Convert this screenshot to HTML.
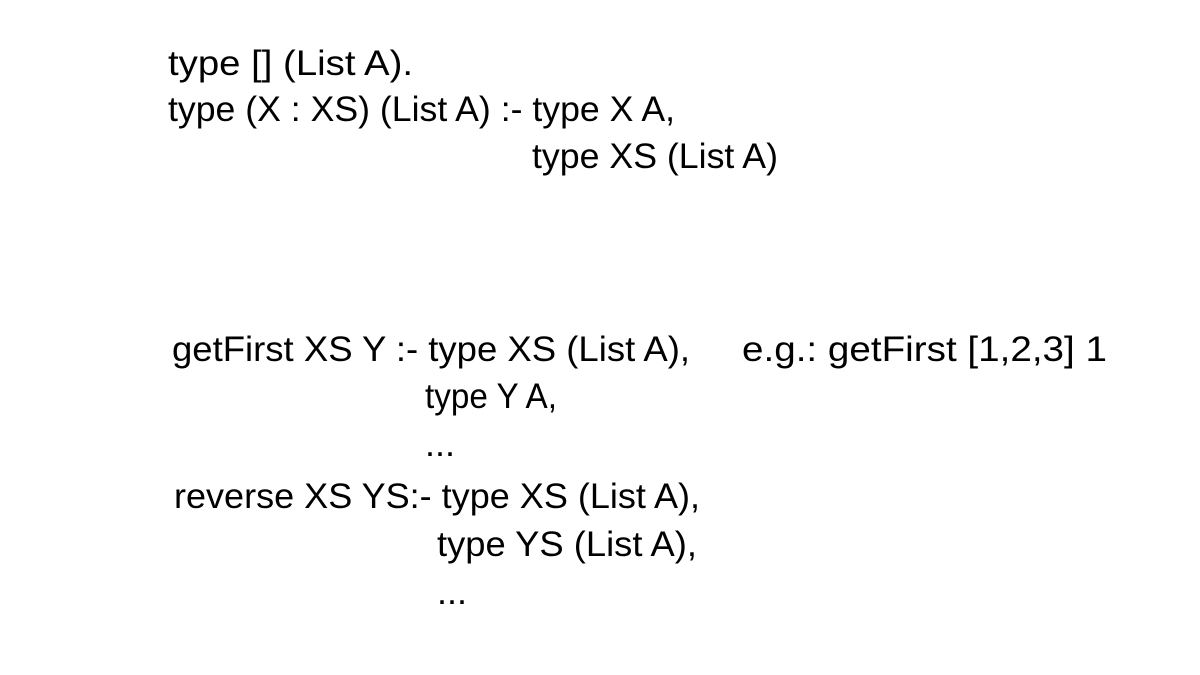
<!DOCTYPE html>
<html><head><meta charset="utf-8"><style>
html,body{margin:0;padding:0;background:#fff;}
svg{display:block;}
text{font-family:"Liberation Sans",sans-serif;font-size:35px;fill:#000;}
</style></head><body>
<svg width="1200" height="675" viewBox="0 0 1200 675" xmlns="http://www.w3.org/2000/svg">
<text x="168" y="75" textLength="245" lengthAdjust="spacingAndGlyphs">type [] (List A).</text>
<text x="168" y="121" textLength="507" lengthAdjust="spacingAndGlyphs">type (X : XS) (List A) :- type X A,</text>
<text x="532" y="168" textLength="246" lengthAdjust="spacingAndGlyphs">type XS (List A)</text>
<text x="172" y="361" textLength="518" lengthAdjust="spacingAndGlyphs">getFirst XS Y :- type XS (List A),</text>
<text x="742" y="361" textLength="365" lengthAdjust="spacingAndGlyphs">e.g.:  getFirst [1,2,3] 1</text>
<text x="425" y="408" textLength="132" lengthAdjust="spacingAndGlyphs">type Y A,</text>
<text x="425" y="456" textLength="30" lengthAdjust="spacingAndGlyphs">...</text>
<text x="174" y="508" textLength="526" lengthAdjust="spacingAndGlyphs">reverse XS YS:- type XS (List A),</text>
<text x="437" y="556" textLength="260" lengthAdjust="spacingAndGlyphs">type YS (List A),</text>
<text x="437" y="604" textLength="30" lengthAdjust="spacingAndGlyphs">...</text>
</svg>
</body></html>
